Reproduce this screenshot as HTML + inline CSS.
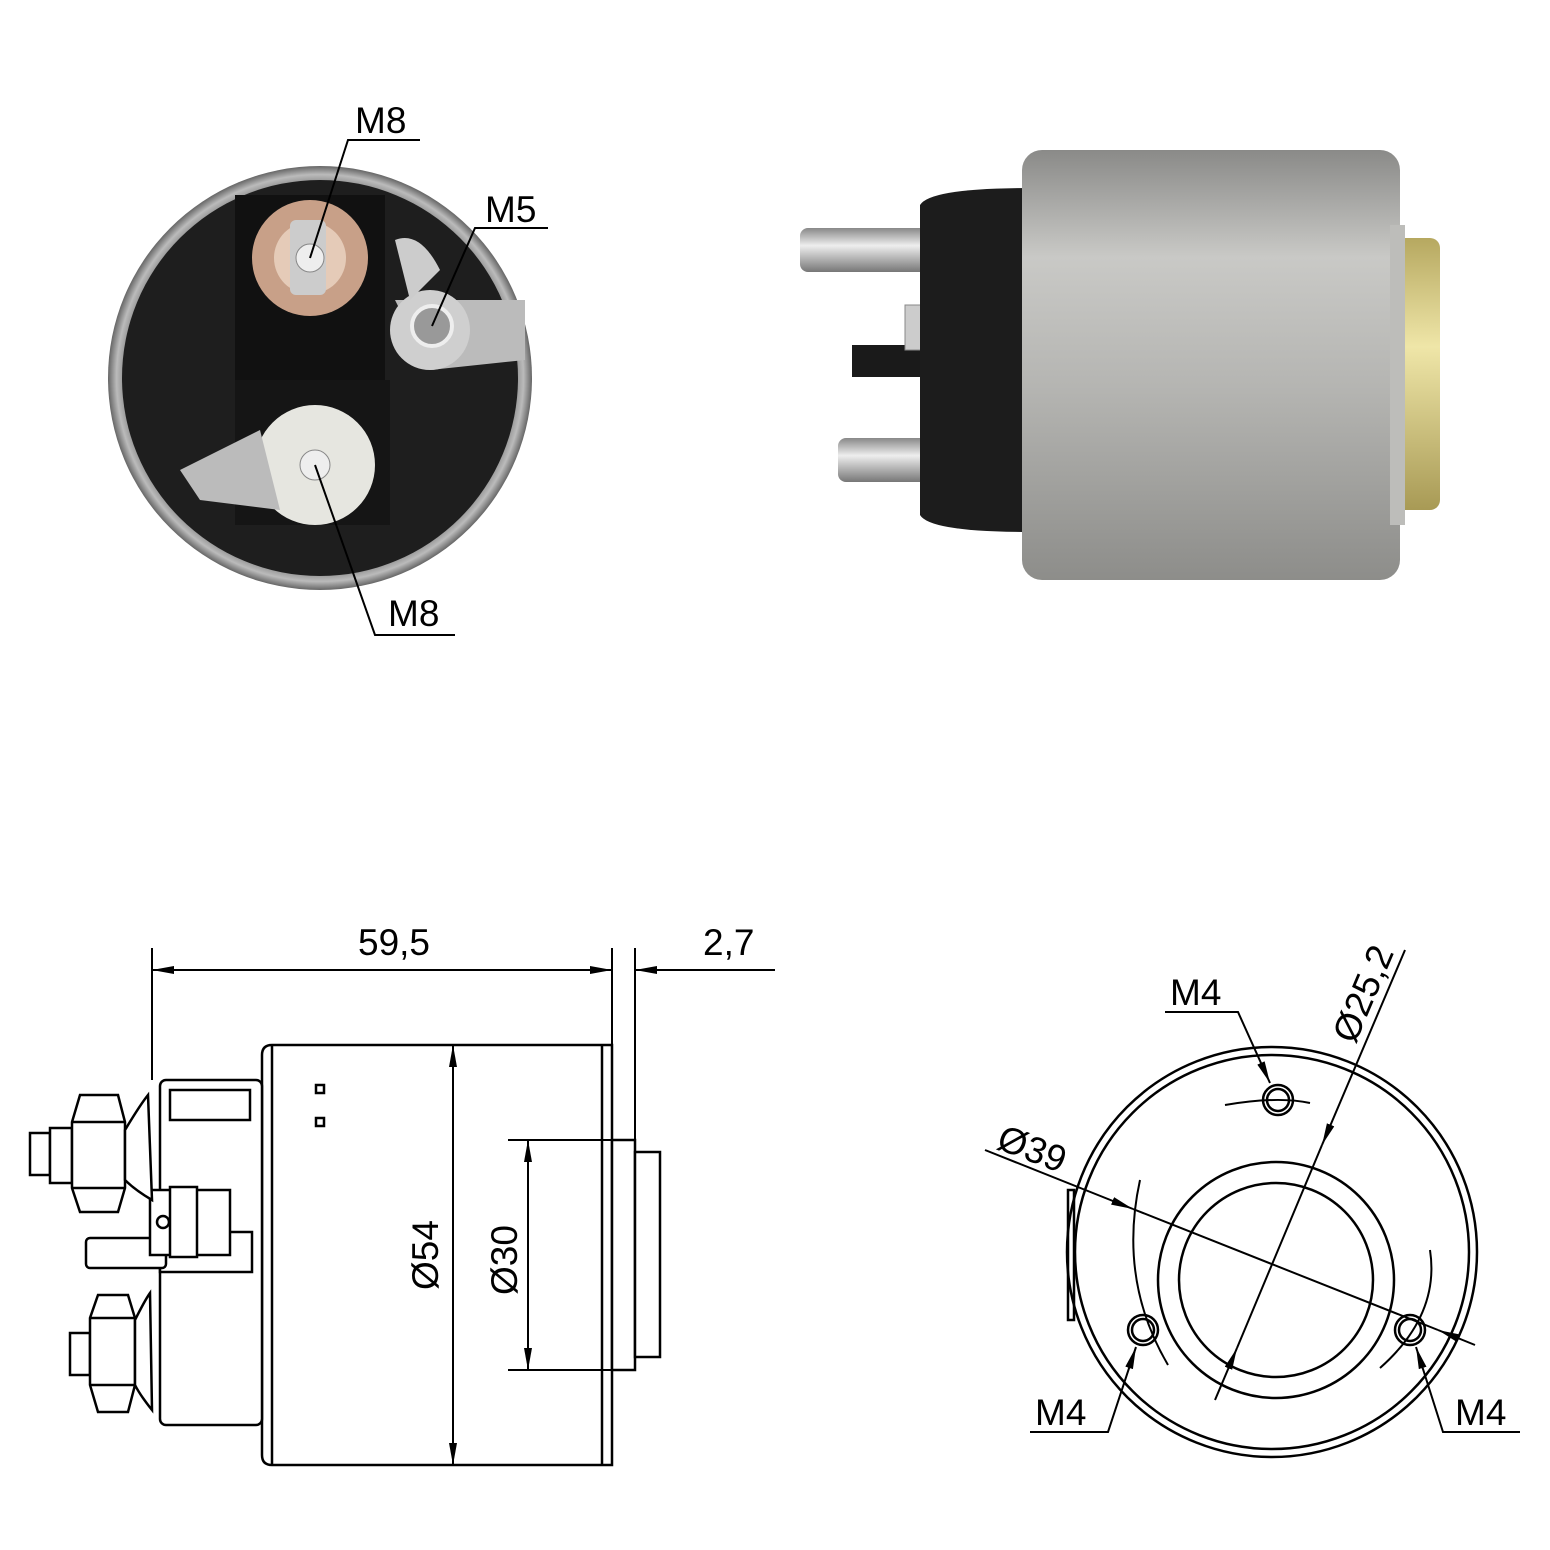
<!DOCTYPE html>
<html><head><meta charset="utf-8"><style>
html,body{margin:0;padding:0;background:#fff;}
svg{display:block;}
text{font-family:"Liberation Sans",sans-serif;fill:#000;}
</style></head><body>
<svg width="1550" height="1550" viewBox="0 0 1550 1550" xmlns="http://www.w3.org/2000/svg">
<defs>
<radialGradient id="rim" cx="50%" cy="50%" r="50%">
<stop offset="90%" stop-color="#777"/><stop offset="96%" stop-color="#bbb"/><stop offset="100%" stop-color="#666"/>
</radialGradient>
<linearGradient id="body" x1="0" y1="0" x2="0" y2="1">
<stop offset="0" stop-color="#8a8a88"/><stop offset="0.25" stop-color="#c9c9c6"/><stop offset="0.55" stop-color="#b5b5b2"/><stop offset="1" stop-color="#8d8d8a"/>
</linearGradient>
<linearGradient id="yel" x1="0" y1="0" x2="0" y2="1">
<stop offset="0" stop-color="#b6a860"/><stop offset="0.4" stop-color="#efe6a8"/><stop offset="1" stop-color="#a89a55"/>
</linearGradient>
<linearGradient id="bolt" x1="0" y1="0" x2="0" y2="1">
<stop offset="0" stop-color="#888"/><stop offset="0.4" stop-color="#eee"/><stop offset="1" stop-color="#777"/>
</linearGradient>
<marker id="ar" viewBox="0 0 22 10" refX="22" refY="5" markerWidth="22" markerHeight="10" markerUnits="userSpaceOnUse" orient="auto-start-reverse">
<path d="M0,1 L22,5 L0,9 z" fill="#000"/></marker>
</defs>

<!-- Top-left end photo -->
<circle cx="320" cy="378" r="212" fill="url(#rim)"/>
<circle cx="320" cy="378" r="198" fill="#1e1e1e"/>
<rect x="235" y="195" width="150" height="185" fill="#111"/>
<rect x="235" y="380" width="155" height="145" fill="#151515"/>
<circle cx="310" cy="258" r="58" fill="#c8a088"/>
<circle cx="310" cy="258" r="36" fill="#e5cbb8"/>
<rect x="290" y="220" width="36" height="75" rx="6" fill="#ccc"/>
<circle cx="310" cy="258" r="14" fill="#eee" stroke="#888"/>
<path d="M395,300 L525,300 L525,360 L430,370 Z" fill="#bbb"/>
<circle cx="430" cy="330" r="40" fill="#cfcfcf"/>
<circle cx="432" cy="326" r="20" fill="#999" stroke="#eee" stroke-width="4"/>
<path d="M395,240 Q420,230 440,270 L410,300 Z" fill="#ccc"/>
<circle cx="315" cy="465" r="60" fill="#e6e6e0"/>
<path d="M180,470 L260,430 L280,510 L200,500 Z" fill="#bbb"/>
<circle cx="315" cy="465" r="15" fill="#eee" stroke="#888"/>
<g stroke="#000" stroke-width="2" fill="none">
<polyline points="310,258 348,140 420,140"/>
<polyline points="432,326 475,228 548,228"/>
<polyline points="315,465 375,635 455,635"/>
</g>
<text x="355" y="133" font-size="37">M8</text>
<text x="485" y="222" font-size="37">M5</text>
<text x="388" y="626" font-size="37">M8</text>

<!-- Top-right side photo -->
<rect x="800" y="228" width="130" height="44" rx="8" fill="url(#bolt)"/>
<rect x="838" y="438" width="92" height="44" rx="8" fill="url(#bolt)"/>
<rect x="852" y="345" width="80" height="32" fill="#1a1a1a"/>
<rect x="905" y="305" width="95" height="45" fill="#ccc" stroke="#888"/>
<path d="M920,205 Q930,188 1030,188 L1030,532 Q930,532 920,515 Z" fill="#1c1c1c"/>
<rect x="1022" y="150" width="378" height="430" rx="20" fill="url(#body)"/>
<rect x="1393" y="238" width="47" height="272" rx="10" fill="url(#yel)"/>
<rect x="1390" y="225" width="15" height="300" fill="#bdbdba"/>

<!-- Bottom-left drawing -->
<g stroke="#000" stroke-width="2.5" fill="#fff">
<path d="M272,1045 L612,1045 L612,1465 L272,1465 Q262,1465 262,1455 L262,1055 Q262,1045 272,1045 Z"/>
<line x1="272" y1="1045" x2="272" y2="1465"/>
<line x1="602" y1="1045" x2="602" y2="1465"/>
<rect x="612" y="1140" width="23" height="230"/>
<rect x="635" y="1152" width="25" height="205"/>
<rect x="160" y="1080" width="102" height="345" rx="6"/>
<rect x="170" y="1090" width="80" height="30"/>
<rect x="160" y="1232" width="92" height="40"/>
<rect x="86" y="1238" width="80" height="30" rx="4"/>
<rect x="150" y="1190" width="80" height="65"/>
<rect x="170" y="1187" width="27" height="70"/>
<circle cx="163" cy="1222" r="6"/>
<path d="M30,1133 L50,1133 L50,1175 L30,1175 Z"/>
<path d="M50,1128 L72,1128 L72,1183 L50,1183 Z"/>
<path d="M80,1095 L118,1095 L125,1122 L125,1188 L118,1212 L80,1212 L72,1188 L72,1122 Z"/>
<line x1="72" y1="1122" x2="125" y2="1122"/><line x1="72" y1="1188" x2="125" y2="1188"/>
<path d="M125,1130 Q140,1105 148,1095 L152,1200 Q135,1190 125,1180 Z"/>
<path d="M70,1333 L90,1333 L90,1375 L70,1375 Z"/>
<path d="M98,1295 L128,1295 L135,1318 L135,1385 L128,1412 L98,1412 L90,1385 L90,1318 Z"/>
<line x1="90" y1="1318" x2="135" y2="1318"/><line x1="90" y1="1385" x2="135" y2="1385"/>
<path d="M135,1320 Q145,1300 150,1293 L152,1410 Q140,1395 135,1385 Z"/>
<rect x="316" y="1085" width="8" height="8"/><rect x="316" y="1118" width="8" height="8"/>
</g>
<g stroke="#000" stroke-width="2" fill="none">
<line x1="152" y1="948" x2="152" y2="1080"/>
<line x1="612" y1="948" x2="612" y2="1045"/>
<line x1="635" y1="948" x2="635" y2="1140"/>
<line x1="152" y1="970" x2="612" y2="970" marker-start="url(#ar)" marker-end="url(#ar)"/>
<line x1="635" y1="970" x2="775" y2="970" marker-start="url(#ar)"/>
<line x1="453" y1="1045" x2="453" y2="1465" marker-start="url(#ar)" marker-end="url(#ar)"/>
<line x1="508" y1="1140" x2="612" y2="1140"/>
<line x1="508" y1="1370" x2="612" y2="1370"/>
<line x1="528" y1="1140" x2="528" y2="1370" marker-start="url(#ar)" marker-end="url(#ar)"/>
</g>
<text x="358" y="955" font-size="37">59,5</text>
<text x="703" y="955" font-size="37">2,7</text>
<text transform="translate(438,1290) rotate(-90)" font-size="37">Ø54</text>
<text transform="translate(517,1295) rotate(-90)" font-size="37">Ø30</text>

<!-- Bottom-right drawing -->
<g stroke="#000" stroke-width="2.5" fill="none">
<circle cx="1272" cy="1252" r="205"/>
<circle cx="1272" cy="1252" r="197"/>
<rect x="1068" y="1190" width="6" height="130"/>
<circle cx="1276" cy="1280" r="118"/>
<circle cx="1276" cy="1280" r="97"/>
<circle cx="1278" cy="1100" r="15"/><circle cx="1278" cy="1100" r="11"/>
<circle cx="1143" cy="1330" r="15"/><circle cx="1143" cy="1330" r="11"/>
<circle cx="1410" cy="1330" r="15"/><circle cx="1410" cy="1330" r="11"/>
</g>
<g stroke="#000" stroke-width="2" fill="none">
<path d="M1225,1105 Q1278,1096 1310,1103"/>
<path d="M1140,1180 Q1118,1280 1168,1365"/>
<path d="M1430,1250 Q1440,1315 1380,1368"/>
<line x1="985" y1="1150" x2="1133" y2="1209" marker-end="url(#ar)"/>
<line x1="1133" y1="1209" x2="1438" y2="1330"/>
<line x1="1475" y1="1345" x2="1438" y2="1330" marker-end="url(#ar)"/>
<line x1="1405" y1="950" x2="1322" y2="1145" marker-end="url(#ar)"/>
<line x1="1322" y1="1145" x2="1237" y2="1348"/>
<line x1="1215" y1="1400" x2="1237" y2="1348" marker-end="url(#ar)"/>
<polyline points="1165,1012 1238,1012 1270,1083" marker-end="url(#ar)"/>
<polyline points="1030,1432 1108,1432 1136,1347" marker-end="url(#ar)"/>
<polyline points="1520,1432 1443,1432 1416,1347" marker-end="url(#ar)"/>
</g>
<text x="1170" y="1005" font-size="37">M4</text>
<text transform="translate(1355,1045) rotate(-67)" font-size="37">Ø25,2</text>
<text transform="translate(995,1148) rotate(21)" font-size="37">Ø39</text>
<text x="1035" y="1425" font-size="37">M4</text>
<text x="1455" y="1425" font-size="37">M4</text>
</svg>
</body></html>
